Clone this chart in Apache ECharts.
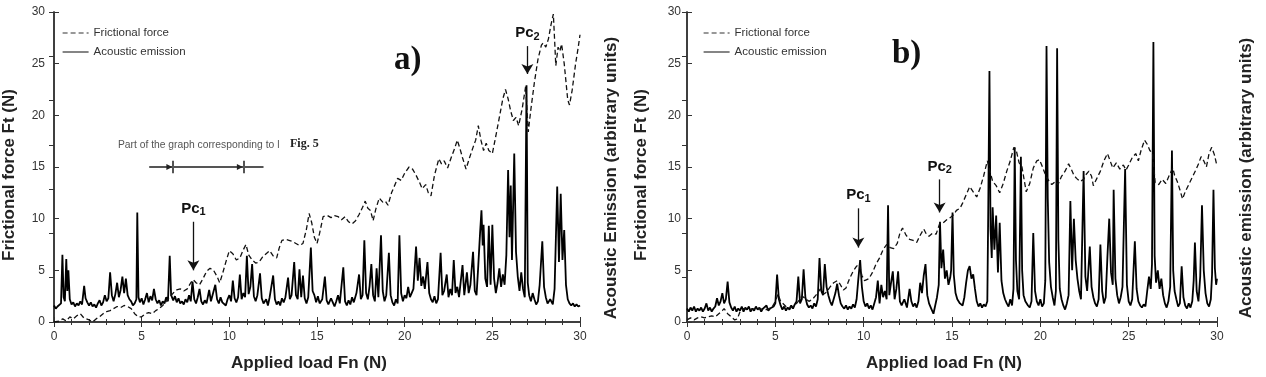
<!DOCTYPE html>
<html>
<head>
	<meta charset="UTF-8">
	<title>Frictional force and acoustic emission</title>
	<script src="https://cdn.jsdelivr.net/npm/echarts@6/dist/echarts.min.js"></script>
	<style>
		html, body { margin:0; padding:0; background:#fff; }
		#chart { width:1266px; height:377px; }
	</style>
</head>
<body>
<div id="chart"></div>

<script type="text/javascript">
	// panel a) : [load Fn, value]
	var frictionA = [
		[0,0],[0.3,0.1],[0.5,0.3],[0.7,0.1],[0.9,0.5],[1.1,0.3],[1.3,0.6],[1.5,0.8],[1.7,0.4],[2.0,0.2],[2.2,0.0],[2.4,0.3],
		[2.6,0.5],[2.8,0.8],[3.0,1.0],[3.2,1.1],[3.4,1.3],[3.6,1.5],[3.8,1.4],[4.0,1.6],[4.2,1.5],[4.4,1.3],[4.6,0.8],[4.8,0.5],
		[5.0,0.5],[5.2,0.8],[5.4,0.9],[5.6,0.8],[5.8,1.1],[6.0,1.3],[6.2,1.6],[6.4,2.0],[6.6,2.4],[6.8,2.8],[7.0,3.1],[7.2,3.2],
		[7.4,3.0],[7.6,3.2],[7.8,3.8],[7.95,4.1],[8.1,3.8],[8.3,3.6],[8.5,4.2],[8.7,4.9],[8.9,5.2],[9.1,5.0],[9.3,4.4],[9.45,3.8],
		[9.6,4.6],[9.8,5.8],[10.0,6.9],[10.2,6.6],[10.4,6.0],[10.6,6.2],[10.8,7.0],[10.95,7.5],[11.1,6.5],[11.3,6.0],[11.5,5.7],
		[11.7,5.8],[11.9,6.3],[12.1,6.6],[12.3,6.9],[12.5,6.4],[12.7,6.2],[12.85,7.2],[13.0,7.9],[13.2,8.0],[13.4,7.9],[13.6,7.8],
		[13.8,7.6],[14.0,7.4],[14.2,7.6],[14.4,9.0],[14.55,10.5],[14.7,9.6],[14.85,8.2],[15.0,7.6],[15.15,8.6],[15.35,10.2],
		[15.6,10.3],[15.8,10.1],[16.0,10.3],[16.2,10.2],[16.4,9.9],[16.6,10.2],[16.8,9.7],[17.0,9.5],[17.2,9.8],[17.4,10.4],
		[17.6,11.1],[17.75,11.7],[17.9,11.0],[18.05,10.8],[18.2,9.8],[18.35,10.9],[18.55,12.0],[18.75,11.6],[18.9,11.7],[19.05,11.3],
		[19.25,12.5],[19.4,13.1],[19.6,13.9],[19.8,13.7],[20.0,14.4],[20.25,15.0],[20.45,14.8],[20.65,14.2],[20.85,13.5],[21.0,12.9],
		[21.2,13.3],[21.35,12.5],[21.5,12.2],[21.7,14.2],[21.95,15.8],[22.1,15.3],[22.25,15.6],[22.45,14.9],[22.65,15.9],[22.85,16.8],
		[23.0,17.6],[23.15,16.8],[23.3,15.9],[23.5,14.8],[23.7,15.9],[23.9,16.9],[24.05,17.6],[24.2,19.0],[24.35,17.6],[24.5,16.6],
		[24.65,17.3],[24.8,16.6],[25.0,16.3],[25.2,18.0],[25.4,19.8],[25.6,21.6],[25.75,22.5],[25.9,21.6],[26.05,20.4],[26.2,19.5],
		[26.35,19.8],[26.5,19.0],[26.7,20.6],[26.9,22.8],[27.05,18.4],[27.2,20.6],[27.4,23.2],[27.6,25.4],[27.8,26.8],[27.9,27.0],
		[28.05,26.6],[28.2,27.4],[28.35,28.8],[28.48,29.8],[28.56,27.0],[28.62,24.8],[28.75,26.6],[28.85,26.2],[28.95,26.9],
		[29.1,25.0],[29.3,21.5],[29.4,21.0],[29.55,22.4],[29.75,25.0],[29.9,26.6],[30,27.8]
	];
	var emissionA = [
		[0,1.6],[0.1,1.3],[0.2,1.5],[0.3,1.4],[0.4,1.8],[0.48,6.5],[0.55,2.4],[0.62,2.0],[0.7,6.1],[0.76,3.0],[0.82,5.0],[0.9,2.2],
		[1.0,1.7],[1.1,1.9],[1.2,1.5],[1.3,1.8],[1.4,1.6],[1.5,2.0],[1.6,1.7],[1.72,3.5],[1.8,2.3],[1.9,1.9],[2.0,1.6],[2.1,1.9],
		[2.2,1.5],[2.3,1.7],[2.4,1.4],[2.5,1.8],[2.6,2.1],[2.7,1.6],[2.8,1.9],[2.9,2.6],[3.0,2.0],[3.1,2.3],[3.2,4.8],[3.3,2.6],
		[3.4,2.0],[3.5,2.7],[3.6,3.8],[3.7,2.4],[3.8,3.1],[3.9,4.4],[4.0,2.8],[4.1,4.2],[4.2,2.6],[4.3,2.2],[4.4,2.0],[4.5,1.6],
		[4.6,1.8],[4.7,2.2],[4.75,10.6],[4.82,2.4],[4.9,1.9],[5.0,2.3],[5.1,1.7],[5.2,2.2],[5.3,2.8],[5.4,1.9],[5.5,2.5],[5.6,2.1],
		[5.7,3.2],[5.8,2.2],[5.9,1.8],[6.0,2.1],[6.1,1.6],[6.2,2.0],[6.3,1.8],[6.4,2.4],[6.5,2.0],[6.6,6.4],[6.68,2.6],[6.8,2.1],
		[6.9,2.5],[7.0,1.9],[7.1,2.3],[7.2,1.8],[7.3,2.0],[7.4,1.7],[7.5,2.2],[7.6,1.9],[7.7,2.6],[7.8,2.0],[7.9,3.9],[8.0,2.2],
		[8.1,1.8],[8.2,2.4],[8.3,3.2],[8.4,2.0],[8.5,1.7],[8.6,2.1],[8.7,1.8],[8.85,3.1],[8.95,2.0],[9.05,1.9],[9.2,3.6],[9.3,2.2],
		[9.4,1.8],[9.5,2.4],[9.6,1.9],[9.7,2.0],[9.8,1.6],[9.9,2.2],[10.0,2.6],[10.1,2.0],[10.2,4.0],[10.3,2.3],[10.4,1.9],[10.5,2.4],
		[10.6,4.6],[10.7,2.2],[10.8,2.8],[10.9,2.4],[11.0,6.4],[11.1,2.7],[11.2,3.4],[11.3,5.6],[11.4,2.5],[11.5,2.0],[11.6,2.6],
		[11.75,4.7],[11.85,2.3],[11.95,1.8],[12.1,2.2],[12.2,1.6],[12.3,2.4],[12.5,4.5],[12.6,2.2],[12.7,1.7],[12.8,2.0],[12.9,1.6],
		[13.0,2.3],[13.1,1.9],[13.2,2.4],[13.35,4.3],[13.45,2.2],[13.55,2.6],[13.7,5.8],[13.8,2.6],[13.9,2.2],[14.0,5.1],[14.1,2.4],
		[14.2,4.5],[14.3,2.3],[14.4,1.8],[14.5,2.4],[14.65,7.2],[14.75,3.0],[14.85,2.6],[14.95,1.9],[15.05,2.5],[15.15,1.8],[15.3,2.2],
		[15.45,4.4],[15.55,2.1],[15.65,1.7],[15.8,2.3],[15.9,1.9],[16.0,1.5],[16.1,2.0],[16.2,2.6],[16.3,1.8],[16.5,5.3],[16.6,2.0],
		[16.7,1.6],[16.8,2.1],[16.9,1.7],[17.0,2.4],[17.1,1.9],[17.25,2.8],[17.4,4.6],[17.5,2.2],[17.6,2.6],[17.7,7.9],[17.8,2.8],
		[17.9,2.2],[18.0,3.5],[18.1,5.6],[18.2,2.6],[18.3,2.0],[18.4,5.2],[18.5,2.4],[18.65,8.4],[18.75,3.0],[18.85,2.0],[18.95,2.6],
		[19.1,6.7],[19.2,2.6],[19.3,1.9],[19.4,1.6],[19.5,2.2],[19.6,1.8],[19.7,8.4],[19.8,2.8],[19.9,2.0],[20.0,2.6],[20.1,2.3],
		[20.2,3.4],[20.3,2.4],[20.4,2.8],[20.5,3.2],[20.65,7.3],[20.75,4.0],[20.85,6.2],[20.95,3.5],[21.05,4.4],[21.15,3.2],[21.3,5.8],
		[21.4,2.8],[21.5,2.2],[21.6,1.9],[21.7,2.5],[21.8,1.8],[21.9,2.2],[22.05,6.7],[22.15,2.6],[22.25,3.0],[22.4,4.6],[22.5,2.4],
		[22.6,3.2],[22.7,2.6],[22.8,6.0],[22.9,2.8],[23.0,3.4],[23.1,2.4],[23.3,5.5],[23.4,2.6],[23.55,4.8],[23.65,2.8],[23.75,3.6],
		[23.9,6.8],[24.0,3.0],[24.1,2.6],[24.2,5.5],[24.3,8.6],[24.38,10.8],[24.45,7.4],[24.5,9.4],[24.6,4.2],[24.7,3.4],[24.8,9.3],
		[24.9,3.6],[25.0,9.4],[25.1,4.2],[25.2,2.8],[25.3,3.8],[25.4,5.2],[25.5,3.4],[25.6,4.6],[25.7,3.6],[25.8,6.5],[25.9,14.7],
		[25.98,8.2],[26.05,13.2],[26.12,6.0],[26.25,16.3],[26.35,6.8],[26.45,4.4],[26.55,3.0],[26.65,4.8],[26.75,3.2],[26.85,2.4],
		[26.95,22.9],[27.02,3.8],[27.1,2.6],[27.2,2.0],[27.3,2.8],[27.4,2.2],[27.5,1.7],[27.6,2.0],[27.7,3.6],[27.85,7.8],[27.95,3.4],
		[28.05,2.4],[28.15,1.8],[28.3,2.2],[28.45,1.7],[28.55,3.2],[28.7,13.1],[28.8,5.8],[28.9,12.4],[29.0,6.0],[29.1,8.9],[29.2,3.6],
		[29.3,2.2],[29.4,1.8],[29.5,1.6],[29.6,1.8],[29.7,1.5],[29.8,1.7],[29.9,1.5],[30,1.6]
	];

	// panel b)
	var frictionB = [
		[0,0.2],[0.2,0.4],[0.4,0.2],[0.6,0.4],[0.8,0.5],[1.0,0.4],[1.2,0.5],[1.4,0.6],[1.6,0.5],[1.8,0.8],[2.0,1.1],[2.1,1.3],
		[2.3,0.8],[2.5,0.5],[2.7,0.2],[2.85,0.3],[3.0,1.0],[3.2,1.3],[3.5,1.2],[4.0,1.3],[4.5,1.2],[4.8,1.4],[5.0,2.0],[5.15,2.7],
		[5.3,2.0],[5.6,1.5],[5.9,1.4],[6.1,1.6],[6.3,2.0],[6.5,2.5],[6.7,2.3],[6.9,2.0],[7.1,2.2],[7.3,2.6],[7.55,3.2],[7.75,2.7],
		[7.9,2.9],[8.1,3.4],[8.3,3.8],[8.5,4.0],[8.65,3.7],[8.85,3.1],[9.0,3.3],[9.2,4.2],[9.4,4.9],[9.6,5.4],[9.75,5.6],[9.9,4.5],
		[10.05,4.0],[10.3,4.2],[10.5,4.8],[10.7,5.6],[10.9,6.2],[11.1,7.0],[11.3,7.5],[11.5,7.2],[11.7,7.1],[11.9,7.6],[12.05,8.6],
		[12.2,9.1],[12.4,8.4],[12.6,8.0],[12.8,7.9],[13.0,7.7],[13.2,8.4],[13.4,9.0],[13.55,8.5],[13.7,8.3],[13.9,8.6],[14.1,8.5],
		[14.3,9.5],[14.5,9.6],[14.7,9.9],[14.9,10.1],[15.1,10.4],[15.25,10.8],[15.45,11.0],[15.6,11.5],[15.8,12.3],[16.0,13.1],
		[16.2,12.6],[16.4,12.1],[16.6,13.0],[16.8,14.2],[17.0,15.6],[17.15,14.6],[17.3,13.6],[17.5,13.2],[17.7,12.5],[17.9,13.4],
		[18.1,14.6],[18.3,15.6],[18.5,16.9],[18.65,16.5],[18.8,15.4],[18.95,15.1],[19.1,13.6],[19.2,12.6],[19.4,13.4],[19.6,14.9],
		[19.8,15.6],[19.95,15.7],[20.1,15.1],[20.3,14.2],[20.5,13.6],[20.65,13.3],[20.85,13.6],[21.0,13.3],[21.2,14.1],[21.4,14.6],
		[21.6,15.3],[21.75,14.8],[21.9,14.2],[22.05,13.9],[22.25,13.6],[22.45,13.8],[22.6,14.3],[22.75,14.6],[22.9,14.1],[23.0,13.2],
		[23.2,13.9],[23.4,14.6],[23.6,15.6],[23.8,16.3],[23.95,15.6],[24.1,14.9],[24.3,15.4],[24.5,14.8],[24.7,15.2],[24.85,14.7],
		[25.0,15.2],[25.2,15.9],[25.4,16.3],[25.55,15.6],[25.7,16.6],[25.9,17.6],[26.05,17.2],[26.2,16.6],[26.35,16.3],[26.5,13.5],
		[26.7,13.3],[26.9,13.8],[27.1,13.4],[27.3,14.2],[27.5,14.9],[27.6,14.2],[27.75,13.6],[27.9,12.8],[28.05,11.9],[28.2,12.6],
		[28.4,13.3],[28.6,14.0],[28.8,14.7],[28.95,15.3],[29.1,16.0],[29.25,15.6],[29.4,15.0],[29.55,16.3],[29.7,16.9],[29.85,16.2],
		[30,15.1]
	];
	var emissionB = [
		[0,1.3],[0.1,1.0],[0.2,1.4],[0.3,1.1],[0.4,1.5],[0.5,1.0],[0.6,1.3],[0.7,1.1],[0.8,1.4],[0.9,1.0],[1.0,1.3],[1.1,1.8],
		[1.2,1.1],[1.3,1.4],[1.4,1.0],[1.5,1.3],[1.6,1.5],[1.7,2.3],[1.8,1.6],[1.9,2.0],[2.0,2.8],[2.1,1.8],[2.2,2.2],[2.3,3.9],
		[2.4,1.9],[2.5,1.4],[2.6,1.1],[2.7,1.5],[2.8,1.0],[2.9,1.3],[3.0,1.1],[3.1,1.5],[3.2,1.0],[3.3,1.4],[3.4,1.2],[3.5,1.5],
		[3.6,1.0],[3.7,1.3],[3.8,1.1],[3.9,1.5],[4.0,1.2],[4.1,1.4],[4.2,1.0],[4.3,1.3],[4.4,1.2],[4.5,1.6],[4.6,1.1],[4.7,1.3],
		[4.8,1.2],[4.9,1.5],[5.0,1.8],[5.1,4.6],[5.2,2.2],[5.3,1.6],[5.4,1.2],[5.5,1.5],[5.6,1.1],[5.7,1.4],[5.8,1.2],[5.9,1.6],
		[6.0,1.3],[6.1,1.7],[6.2,2.0],[6.3,4.4],[6.4,1.8],[6.5,2.2],[6.6,5.1],[6.7,2.4],[6.8,1.7],[6.9,1.4],[7.0,1.6],[7.1,1.3],
		[7.2,1.8],[7.3,1.5],[7.4,2.2],[7.5,6.2],[7.6,3.0],[7.7,2.6],[7.8,5.6],[7.9,3.4],[8.0,2.6],[8.1,2.0],[8.2,1.6],[8.3,2.2],
		[8.4,2.8],[8.5,3.7],[8.6,2.6],[8.7,1.8],[8.8,1.5],[8.9,1.3],[9.0,1.6],[9.1,1.2],[9.2,1.5],[9.3,1.3],[9.4,1.7],[9.5,1.4],
		[9.6,2.2],[9.7,4.2],[9.8,6.0],[9.9,3.4],[10.0,2.0],[10.1,1.5],[10.2,1.8],[10.3,1.3],[10.4,1.6],[10.5,1.2],[10.6,1.8],
		[10.7,2.4],[10.8,4.0],[10.9,1.8],[11.0,3.6],[11.1,2.4],[11.2,3.0],[11.3,2.2],[11.38,11.3],[11.45,2.6],[11.55,3.8],[11.65,4.9],
		[11.75,2.2],[11.85,3.2],[11.95,4.9],[12.05,2.0],[12.15,1.6],[12.3,2.2],[12.45,1.4],[12.6,3.2],[12.7,2.0],[12.8,1.5],[12.9,1.8],
		[13.0,1.4],[13.1,2.0],[13.2,3.8],[13.3,2.8],[13.4,4.5],[13.5,5.6],[13.6,2.6],[13.7,1.8],[13.8,1.4],[13.95,0.8],[14.05,1.6],
		[14.15,2.4],[14.25,3.6],[14.32,9.7],[14.4,5.2],[14.5,7.0],[14.6,4.2],[14.7,5.0],[14.8,3.6],[14.9,4.3],[14.95,5.0],[15.03,10.6],
		[15.1,4.6],[15.2,2.8],[15.3,2.2],[15.45,1.8],[15.6,1.6],[15.7,2.4],[15.8,3.8],[15.9,5.0],[16.0,5.4],[16.1,4.2],[16.2,4.6],
		[16.3,3.2],[16.4,2.0],[16.5,1.5],[16.6,1.8],[16.7,1.4],[16.8,1.7],[16.9,1.5],[17.0,2.0],[17.05,10.6],[17.12,24.3],[17.18,9.0],
		[17.25,6.2],[17.3,11.1],[17.4,7.0],[17.5,10.3],[17.6,4.8],[17.7,9.6],[17.8,4.0],[17.9,2.8],[18.0,2.2],[18.1,1.8],[18.2,1.5],
		[18.3,2.2],[18.4,1.6],[18.48,3.2],[18.55,16.9],[18.62,6.0],[18.7,3.0],[18.8,2.2],[18.9,16.0],[18.97,5.0],[19.05,2.6],[19.15,2.0],
		[19.3,1.6],[19.4,1.4],[19.5,2.0],[19.6,8.6],[19.7,3.0],[19.8,2.0],[19.9,1.6],[20.0,2.2],[20.1,1.5],[20.2,1.8],[20.28,4.0],
		[20.35,26.7],[20.42,12.0],[20.5,5.8],[20.6,3.4],[20.7,2.4],[20.8,1.6],[20.88,3.0],[20.95,26.5],[21.02,8.0],[21.1,3.2],[21.2,2.2],
		[21.3,1.6],[21.4,1.2],[21.5,1.8],[21.6,2.6],[21.7,11.7],[21.8,5.0],[21.9,10.0],[22.0,6.0],[22.1,4.2],[22.2,3.0],[22.3,2.2],
		[22.45,14.6],[22.55,4.4],[22.65,3.0],[22.8,7.3],[22.9,3.4],[23.0,2.4],[23.1,1.8],[23.2,1.5],[23.3,2.2],[23.4,7.5],[23.5,3.0],
		[23.6,1.8],[23.7,2.4],[23.8,6.4],[23.9,10.0],[24.0,4.8],[24.1,3.6],[24.15,12.8],[24.25,4.2],[24.35,2.6],[24.45,1.8],[24.55,2.4],
		[24.65,3.4],[24.8,14.8],[24.9,3.6],[25.0,2.0],[25.1,1.6],[25.2,2.2],[25.35,7.8],[25.45,3.2],[25.55,2.0],[25.65,1.6],[25.75,1.4],
		[25.85,1.7],[25.95,1.5],[26.05,3.0],[26.15,4.4],[26.25,3.2],[26.32,5.6],[26.4,27.1],[26.47,6.4],[26.55,3.8],[26.65,5.0],
		[26.75,3.2],[26.85,4.2],[26.95,2.6],[27.05,1.8],[27.15,1.4],[27.25,2.0],[27.35,3.4],[27.45,16.6],[27.52,5.0],[27.6,3.0],
		[27.7,2.2],[27.8,1.5],[27.9,1.8],[28.0,5.4],[28.1,2.4],[28.2,1.6],[28.3,1.3],[28.4,1.8],[28.5,1.4],[28.6,2.0],[28.68,4.0],
		[28.75,7.7],[28.85,3.0],[28.95,2.0],[29.05,4.4],[29.15,11.3],[29.25,5.0],[29.35,2.8],[29.45,1.8],[29.55,1.5],[29.65,2.2],
		[29.72,4.6],[29.8,12.8],[29.88,5.2],[29.95,3.6],[30,4.2]
	];

	// critical load arrows: [subscript, x, yFrom, yTo]
	var arrowsA = [["1", 7.95, 9.7, 5.0], ["2", 27.0, 26.7, 24.0]];
	var arrowsB = [["1", 9.7, 11.0, 7.2], ["2", 14.3, 13.8, 10.6]];
	// "part of the graph" bar of panel a): [from, to, marker1, marker2, level]
	var fig5Bar = [5.43, 11.95, 6.78, 10.8, 15];

	var FONT = 'Liberation Sans, Arial, sans-serif';
	var AXIS_COLOR = '#333';
	var chart = echarts.init(document.getElementById('chart'));

	function xAxes(grid)
	{
		var base = {
			type:'value', gridIndex:grid, min:0, max:30, interval:5,
			axisLine:{show:true, lineStyle:{color:AXIS_COLOR, width:1.5}},
			axisTick:{show:true, inside:true, length:5, lineStyle:{color:AXIS_COLOR}},
			minorTick:{show:true, splitNumber:5, length:3, lineStyle:{color:AXIS_COLOR}},
			splitLine:{show:false}
		};
		var bottom = echarts.util.merge({
			position:'bottom',
			axisLabel:{margin:9, fontSize:12, color:'#333', fontFamily:FONT},
			name:'Applied load Fn (N)', nameLocation:'middle', nameGap:33,
			nameTextStyle:{fontSize:17, fontWeight:'bold', color:'#222', fontFamily:FONT, padding:[0,16,0,0]}
		}, base, true);
		var top = echarts.util.merge({position:'top', axisLabel:{show:false}}, base, true);
		return [bottom, top];
	}

	function yAxes(grid, leftName, rightName, labelMargin, leftGap, rightGap)
	{
		var left = {
			type:'value', gridIndex:grid, position:'left', min:0, max:30, interval:5,
			axisLine:{show:true, lineStyle:{color:AXIS_COLOR, width:1.5}},
			axisTick:{show:true, inside:true, length:5, lineStyle:{color:AXIS_COLOR}},
			splitLine:{show:false},
			axisLabel:{margin:labelMargin, fontSize:12, color:'#333', fontFamily:FONT},
			name:leftName, nameLocation:'middle', nameGap:leftGap,
			nameTextStyle:{fontSize:17, fontWeight:'bold', color:'#222', fontFamily:FONT, padding:[0,16,0,0]}
		};
		var right = {
			type:'value', gridIndex:grid, position:'right', min:0, max:30, interval:30/7,
			axisLine:{show:true, lineStyle:{color:AXIS_COLOR, width:1.5}},
			axisTick:{show:true, inside:true, length:5, lineStyle:{color:AXIS_COLOR}},
			splitLine:{show:false},
			axisLabel:{show:false},
			name:rightName, nameLocation:'middle', nameGap:rightGap, nameRotate:90,
			nameTextStyle:{fontSize:17, fontWeight:'bold', color:'#222', fontFamily:FONT, padding:[0,22,0,0]}
		};
		return [left, right];
	}

	function arrowLines(list)
	{
		var lines = [];
		list.forEach(function(a)
		{
			lines.push([
				{coord:[a[1], a[2]], symbol:'none',
					label:{show:true, position:'start', distance:4, formatter:'{p|Pc}{s|' + a[0] + '}',
						rich:{p:{fontSize:15, fontWeight:'bold', color:'#111', fontFamily:FONT},
							s:{fontSize:11, fontWeight:'bold', color:'#111', fontFamily:FONT, padding:[7,0,0,0]}}}},
				{coord:[a[1], a[3]], symbol:'arrow'}
			]);
		});
		return {
			silent:true, animation:false, symbolSize:[9, 10],
			lineStyle:{type:'solid', color:'#111', width:1.3},
			data:lines
		};
	}

	function frictionSeries(data, xi, yi, marks)
	{
		return {
			name:'Frictional force', type:'line', xAxisIndex:xi, yAxisIndex:yi, data:data,
			symbol:'none', z:3,
			lineStyle:{color:'#111', width:1.3, type:[5, 3]},
			itemStyle:{color:'#111'},
			markLine:marks
		};
	}

	function emissionSeries(data, xi, yi, extra)
	{
		var s = {
			name:'Acoustic emission', type:'line', xAxisIndex:xi, yAxisIndex:yi, data:data,
			symbol:'none', z:2,
			lineStyle:{color:'#000', width:1.8},
			itemStyle:{color:'#000'}
		};
		return echarts.util.merge(s, extra || {}, true);
	}

	var barMarks = {
		markLine:{
			silent:true, symbol:'none',
			lineStyle:{type:'solid', color:'#555', width:2},
			label:{show:false},
			data:[
				[{coord:[fig5Bar[0], fig5Bar[4]]}, {coord:[fig5Bar[1], fig5Bar[4]]}],
				[{coord:[fig5Bar[2], fig5Bar[4] - 0.6]}, {coord:[fig5Bar[2], fig5Bar[4] + 0.6]}],
				[{coord:[fig5Bar[3], fig5Bar[4] - 0.6]}, {coord:[fig5Bar[3], fig5Bar[4] + 0.6]}]
			]
		},
		markPoint:{
			silent:true, symbol:'triangle', symbolSize:6, symbolRotate:-90,
			itemStyle:{color:'#222'}, label:{show:false},
			data:[{coord:[fig5Bar[2] - 0.2, fig5Bar[4]]}, {coord:[fig5Bar[3] - 0.2, fig5Bar[4]]}]
		}
	};

	var legendBase = {
		orient:'vertical', top:22, itemWidth:26, itemHeight:12, itemGap:7,
		textStyle:{fontSize:11.5, color:'#333', fontFamily:FONT},
		itemStyle:{opacity:0},
		lineStyle:{width:1.2, color:'#333'},
		data:['Frictional force', 'Acoustic emission'],
		selectedMode:false
	};

	var xa = xAxes(0), xb = xAxes(1);
	var ya = yAxes(0, 'Frictional force Ft (N)', 'Acoustic Emission (arbitrary units)', 9, 36, 23);
	var yb = yAxes(1, 'Frictional force Ft (N)', 'Acoustic emission (arbitrary units)', 6, 37, 21);

	var option = {
		animation:false,
		backgroundColor:'#fff',
		grid:[
			{left:51, top:12, width:529, height:317},
			{left:687, top:12, width:530, height:317}
		],
		legend:[
			echarts.util.merge({left:57}, legendBase, true),
			echarts.util.merge({left:698}, legendBase, true)
		],
		xAxis:[xa[0], xa[1], xb[0], xb[1]],
		yAxis:[ya[0], ya[1], yb[0], yb[1]],
		graphic:[
			{type:'text', left:394, top:44, style:{text:'a)', font:'bold 33px "Liberation Serif", serif', fill:'#111'}},
			{type:'text', left:892, top:38, style:{text:'b)', font:'bold 33px "Liberation Serif", serif', fill:'#111'}},
			{type:'text', left:118, top:140, style:{text:'Part of the graph corresponding to l', font:'10.3px "Liberation Sans", sans-serif', fill:'#555'}},
			{type:'text', left:290, top:138, style:{text:'Fig. 5', font:'bold 12px "Liberation Serif", serif', fill:'#222'}}
		],
		series:[
			emissionSeries(emissionA, 0, 1, barMarks),
			frictionSeries(frictionA, 0, 0, arrowLines(arrowsA)),
			emissionSeries(emissionB, 2, 3),
			frictionSeries(frictionB, 2, 2, arrowLines(arrowsB))
		]
	};
	chart.setOption(option);
</script>
</body>
</html>
